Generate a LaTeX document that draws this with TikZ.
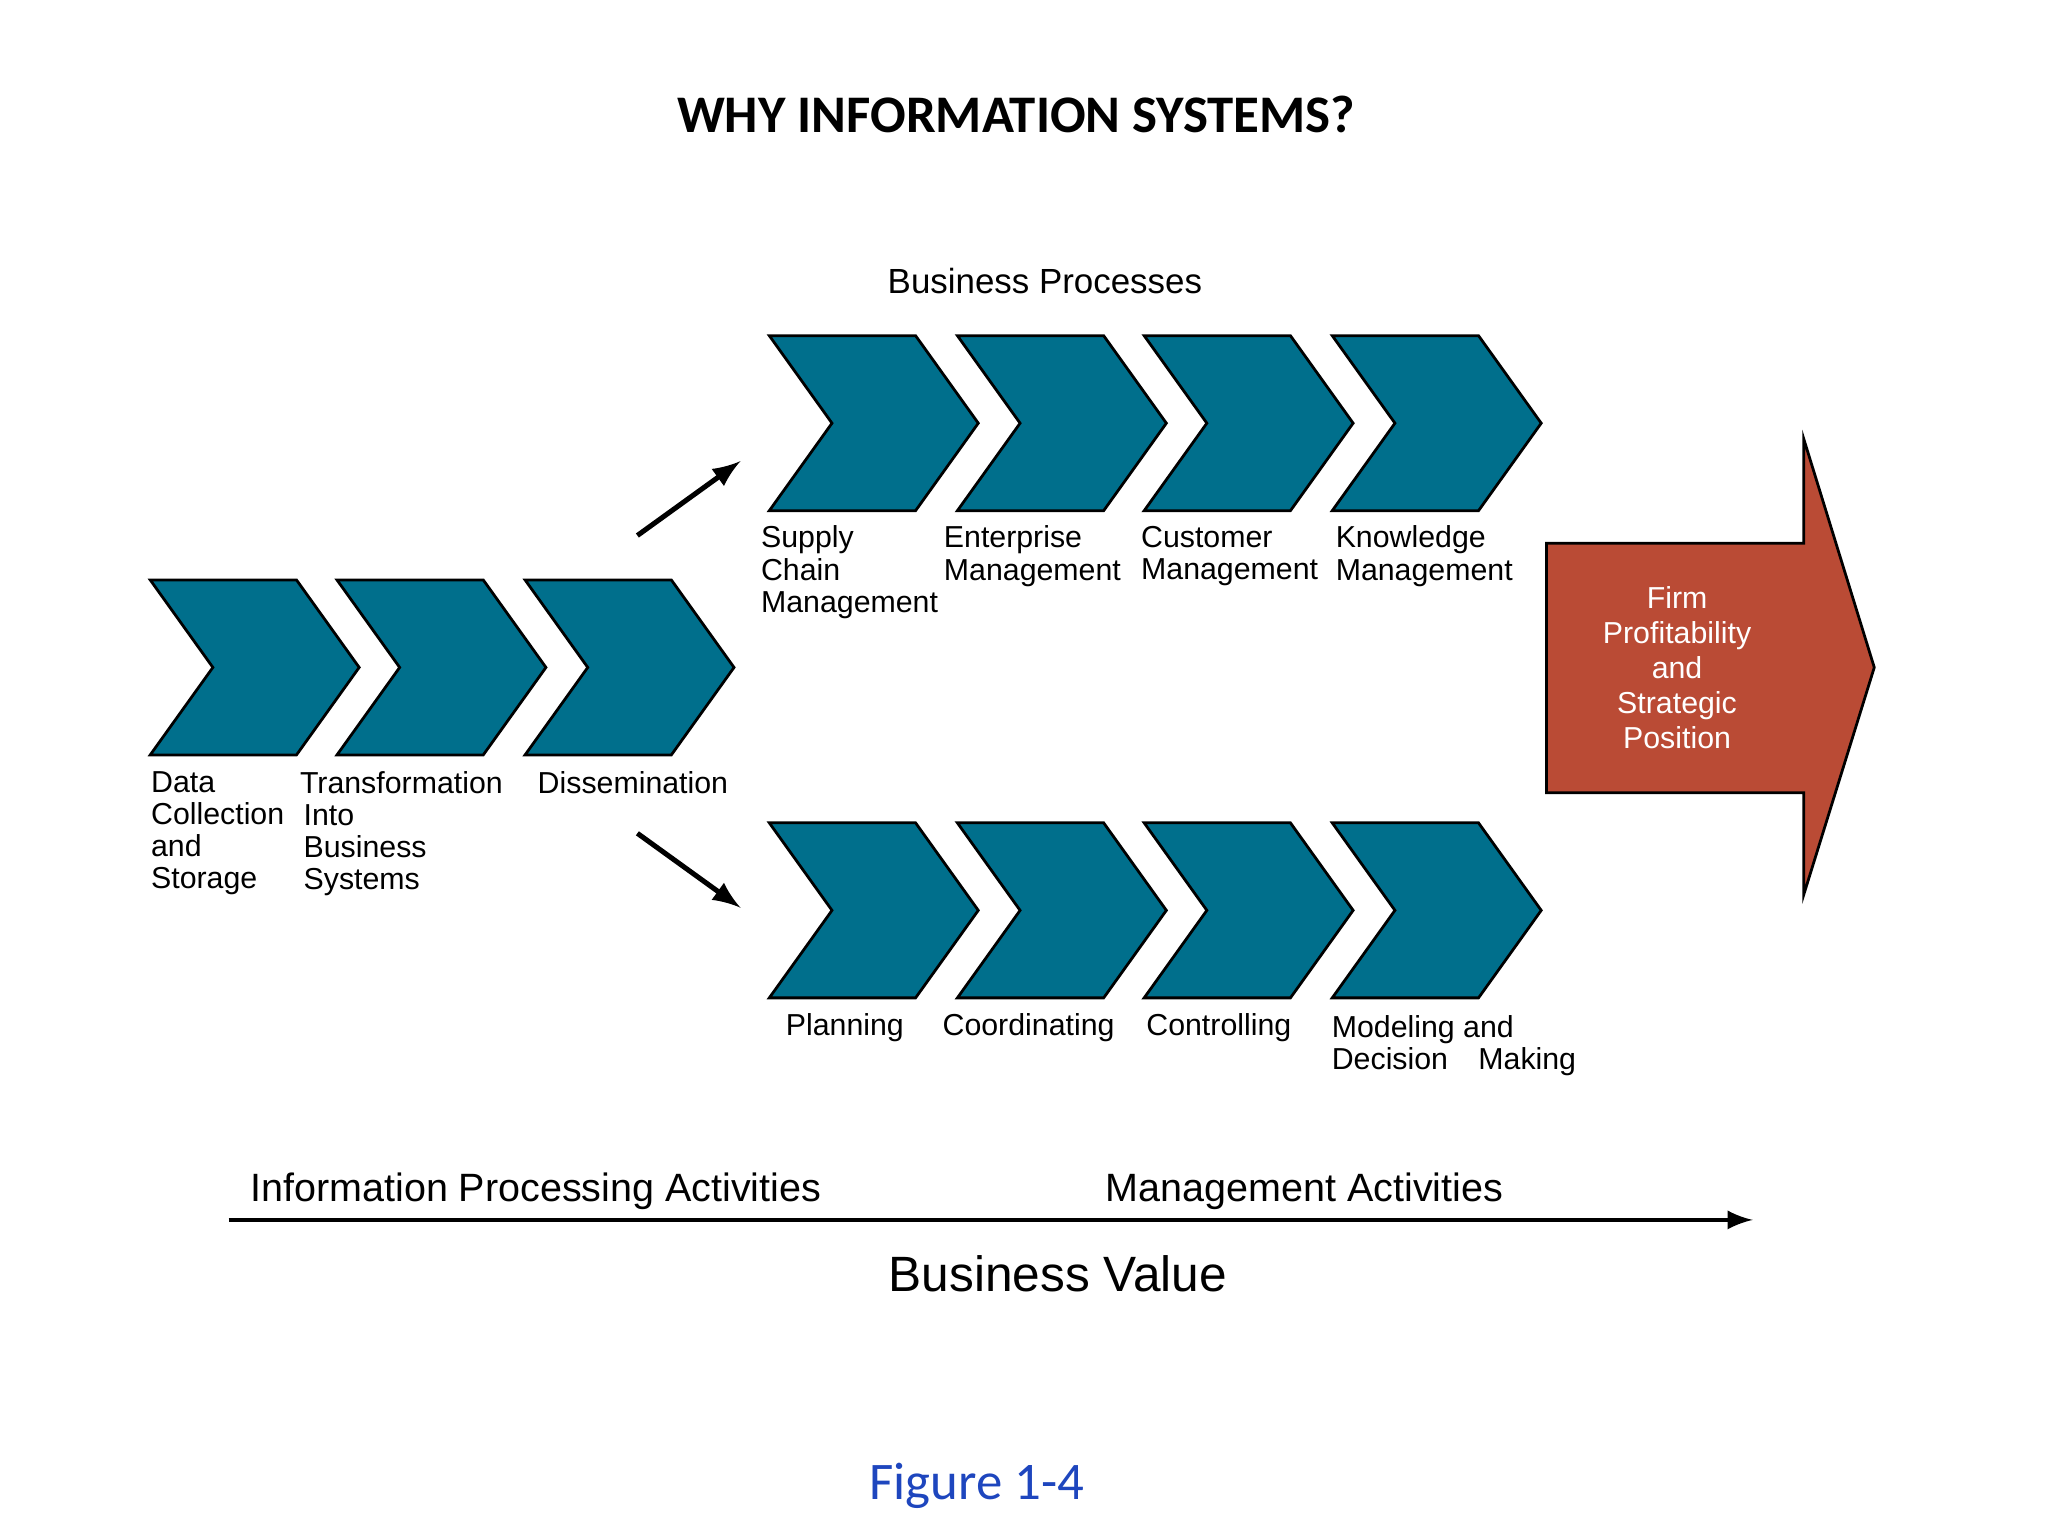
\documentclass[tikz,border=0pt]{standalone}
\usepackage{fontspec}
\setmainfont{Liberation Sans}
\newfontfamily\carlitofont{Carlito}
\begin{document}
\begin{tikzpicture}[x=0.01cm,y=-0.01cm,
  chev/.style={fill=teal0,draw=black,line width=0.6pt,line join=miter},
  lbl/.style={anchor=north west,inner sep=0,align=left,font=\fontsize{6.6}{7.0}\selectfont},
  arr/.style={-latex,line width=1.1pt}]
\definecolor{teal0}{RGB}{0,111,140}
\definecolor{rust}{RGB}{186,75,53}
\definecolor{figblue}{RGB}{30,70,190}
\useasboundingbox (0,0) rectangle (1568,1176);
\newcommand{\chevron}[3]{\draw[chev] (#1,#2) -- ++(112,0) -- ++(48,67) -- ++(-48,67) -- ++(-112,0) -- ++(48,-67) -- cycle; \coordinate (#3) at (#1+80,#2+67);}
\chevron{115}{444}{L1}\chevron{258}{444}{L2}\chevron{402}{444}{L3}
\chevron{589}{257}{T1}\chevron{733}{257}{T2}\chevron{876}{257}{T3}\chevron{1020}{257}{T4}
\chevron{589}{630}{B1}\chevron{733}{630}{B2}\chevron{876}{630}{B3}\chevron{1020}{630}{B4}
\draw[fill=rust,draw=black,line width=0.6pt] (1184,416) -- (1381,416) -- (1381,336) -- (1435,511) -- (1381,685) -- (1381,607) -- (1184,607) -- cycle;
\node[white,align=center,font=\fontsize{6.6}{7.6}\selectfont] (firm) at (1284,511) {Firm\\Profitability\\and\\Strategic\\Position};
\node[font=\carlitofont\bfseries\fontsize{11.5}{13}\selectfont] (title) at (778,88) {WHY INFORMATION SYSTEMS?};
\node[font=\fontsize{7.6}{9}\selectfont] (bp) at (800,215) {Business Processes};
\node[lbl] (l1) at (115,590) {Data\\Collection\\and\\Storage};
\node[lbl] (l2) at (229,590) {Transformation\\\hspace{0.12em}Into\\\hspace{0.12em}Business\\\hspace{0.12em}Systems};
\node[lbl] (l3) at (411,590) {Dissemination};
\node[lbl] (t1) at (582,402) {Supply\\Chain\\Management};
\node[lbl] (t2) at (722,402) {Enterprise\\Management};
\node[lbl] (t3) at (873,402) {Customer\\Management};
\node[lbl] (t4) at (1022,402) {Knowledge\\Management};
\node[lbl] (b1) at (601,775) {Planning};
\node[lbl] (b2) at (721,775) {Coordinating};
\node[lbl] (b3) at (877,775) {Controlling};
\node[lbl] (b4) at (1019,777) {Modeling and\\Decision\quad Making};
\coordinate (a1s) at (488,410); \coordinate (a1e) at (567,353);
\coordinate (a2s) at (488,638); \coordinate (a2e) at (567,695);
\draw[arr] (a1s) -- (a1e);
\draw[arr] (a2s) -- (a2e);
\coordinate (bvs) at (175,934); \coordinate (bve) at (1342,934);
\draw[-latex,line width=0.9pt] (bvs) -- (bve);
\node[anchor=west,inner sep=0,font=\fontsize{8.6}{10}\selectfont] (ipa) at (191,912) {Information Processing Activities};
\node[anchor=west,inner sep=0,font=\fontsize{8.6}{10}\selectfont] (ma) at (846,912) {Management Activities};
\node[font=\fontsize{10.8}{12}\selectfont] (bv) at (810,975) {Business Value};
\node[font=\carlitofont\fontsize{11.5}{13}\selectfont,text=figblue] (fig) at (748,1138) {Figure 1-4};
\end{tikzpicture}
\end{document}
